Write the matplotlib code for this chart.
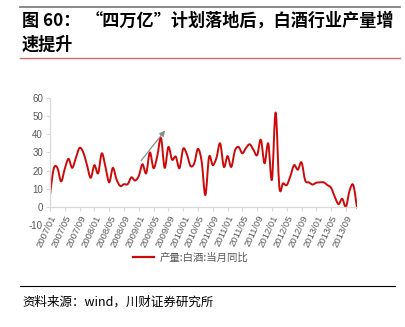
import numpy as np
import pandas as pd
import matplotlib
matplotlib.use('Agg')
import matplotlib.pyplot as plt
from matplotlib.path import Path
from matplotlib.patches import PathPatch, FancyArrowPatch
from matplotlib.lines import Line2D

plt.rcParams['font.family'] = ['Noto Sans CJK SC', 'DejaVu Sans']

# monthly baijiu output, YoY %, 2007/01 - 2013/12
months = pd.date_range('2007-01', periods=84, freq='MS').strftime('%Y/%m').tolist()
yoy = [6.5, 21, 21.5, 14, 21, 26.5, 21.5, 27, 32.5, 30, 23, 16,
       23, 18.5, 29.5, 22, 13.5, 21.5, 15, 11.5, 12.5, 12.5, 16.3, 14.5,
       17, 23.5, 18.5, 30, 21.3, 28, 38, 21.5, 33, 26, 27.7, 21.3,
       32, 29, 22.5, 24, 32, 25, 6.5, 27.5, 23, 27, 35, 22,
       28, 22, 31, 33, 29.5, 32.5, 34.5, 31.5, 28.5, 37, 24, 35,
       15, 52, 11, 13, 12, 17, 23, 20.5, 24.5, 14.5, 13.5, 12.3,
       13.3, 13.5, 13.5, 12, 10.5, 5.5, 1.5, 4.5, 0, 9, 12, -0.5]
series_name = '产量:白酒:当月同比'
yticks = [-10, 0, 10, 20, 30, 40, 50, 60]

red = '#CC0A0A'
grey_txt = '#595959'
axis_col = '#D9D9D9'

W, H = 406, 327
fig = plt.figure(figsize=(W / 100, H / 100), dpi=100)
ax = fig.add_axes([50 / W, 1 - 225 / H, 307 / W, 127 / H])

# spines first: moving a spine rebuilds the ticks
for s in ['top', 'right']:
    ax.spines[s].set_visible(False)
ax.spines['bottom'].set_position(('data', 0))
ax.spines['left'].set_bounds(0, 60)
for s in ['left', 'bottom']:
    ax.spines[s].set_color(axis_col)
    ax.spines[s].set_linewidth(0.9)


def smooth_path(x, y, k=1 / 6):
    # Catmull-Rom style cubic bezier through every point
    pts = np.column_stack([x, y]).astype(float)
    n = len(pts)
    verts = [pts[0]]
    codes = [Path.MOVETO]
    for i in range(n - 1):
        p0 = pts[max(i - 1, 0)]
        p1 = pts[i]
        p2 = pts[i + 1]
        p3 = pts[min(i + 2, n - 1)]
        verts += [p1 + (p2 - p0) * k, p2 - (p3 - p1) * k, p2]
        codes += [Path.CURVE4] * 3
    return Path(verts, codes)


xs = np.arange(len(yoy))
ax.add_patch(PathPatch(smooth_path(xs, yoy), fill=False, edgecolor=red,
                       lw=1.4, capstyle='round', joinstyle='round'))

# trend arrow after the stimulus package
ax.add_patch(FancyArrowPatch((24.2, 24.4), (31.6, 43.3), arrowstyle='-|>',
                             mutation_scale=8, color='#8C8C8C', lw=0.9))

ax.set_xlim(0, 83)
ax.set_ylim(-10, 60)
ax.set_yticks(yticks)
ax.set_yticklabels([str(v) for v in yticks], fontsize=7, color=grey_txt,
                   family='Liberation Sans')
ax.set_xticks(xs[::4])
ax.set_xticklabels(months[::4], rotation=65, ha='right', va='top',
                   rotation_mode='anchor', fontsize=6.8, color=grey_txt,
                   family='Liberation Sans')
ax.tick_params(axis='both', color=axis_col, length=3, width=0.8, pad=2)
ax.yaxis.get_major_ticks()[0].tick1line.set_visible(False)

handle = Line2D([], [], color=red, lw=1.6)
fig.legend([handle], [series_name], loc='center', bbox_to_anchor=(0.47, 1 - 258 / H),
           frameon=False, fontsize=7.5, handlelength=2.0, handletextpad=0.5,
           labelcolor=grey_txt)

# header and footer
fig.add_artist(Line2D([20 / W, 400 / W], [1 - 7 / H] * 2, color='#7F7F7F', lw=1.3))
fig.add_artist(Line2D([20 / W, 400 / W], [1 - 58 / H] * 2, color='#D86A6A', lw=1.0))
fig.text(22 / W, 1 - 21 / H, '图 60：', fontsize=12.3, fontweight='bold', va='center')
fig.text(86 / W, 1 - 21 / H, '“四万亿”计划落地后，白酒行业产量增', fontsize=12.3,
         fontweight='bold', va='center')
fig.text(22 / W, 1 - 45 / H, '速提升', fontsize=12.3, fontweight='bold', va='center')
fig.add_artist(Line2D([20 / W, 395 / W], [1 - 286 / H] * 2, color='black', lw=0.8))
fig.text(22 / W, 1 - 302 / H, '资料来源：wind，川财证券研究所', fontsize=9, va='center')

fig.savefig('out.png', dpi=100)
